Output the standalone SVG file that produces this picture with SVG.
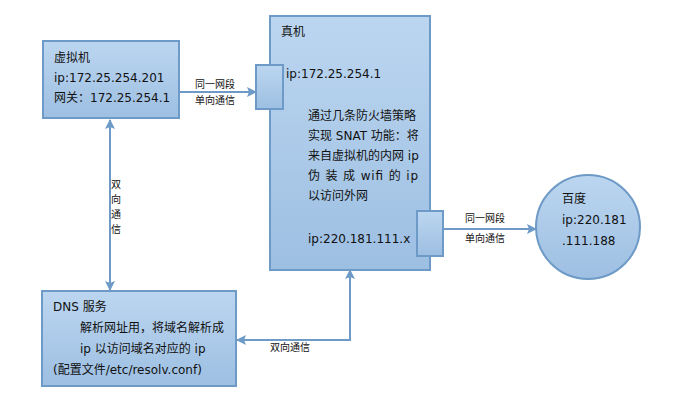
<svg xmlns="http://www.w3.org/2000/svg" width="675" height="412" viewBox="0 0 675 412">
<defs>
<linearGradient id="g" x1="0" y1="0" x2="0" y2="1">
<stop offset="0" stop-color="#bcd6f0"/>
<stop offset="1" stop-color="#9dbfe2"/>
</linearGradient>
<marker id="ah" viewBox="0 0 10 10" refX="9" refY="5" markerWidth="10" markerHeight="10" markerUnits="userSpaceOnUse" orient="auto-start-reverse">
<path d="M0,0 L10,5 L0,10 L2,5 Z" fill="#6d9ac6"/>
</marker>
<style>
.box{fill:url(#g);stroke:#6d9ac6;stroke-width:2}
.t{font-family:"DejaVu Sans","Noto Sans CJK SC",sans-serif;font-size:12px;fill:#111}
.s{font-family:"DejaVu Sans","Noto Sans CJK SC",sans-serif;font-size:10px;fill:#111}
.c{fill:none;stroke:#6d9ac6;stroke-width:2}
</style>
</defs>
<rect width="675" height="412" fill="#fff"/>
<g id="connectors">
<line class="c" x1="180" y1="92" x2="256" y2="92" marker-end="url(#ah)"/>
<line class="c" x1="110" y1="120" x2="110" y2="290" marker-start="url(#ah)" marker-end="url(#ah)"/>
<line class="c" x1="443" y1="229" x2="536" y2="229" marker-end="url(#ah)"/>
<polyline class="c" points="350,270 350,340 237,340" marker-start="url(#ah)" marker-end="url(#ah)"/>
<text class="s" x="195" y="88">同一网段</text>
<text class="s" x="195" y="104">单向通信</text>
<text class="s" x="465" y="222">同一网段</text>
<text class="s" x="465" y="242">单向通信</text>
<text class="s" x="270" y="351">双向通信</text>
<text class="s" x="111" y="188">双</text>
<text class="s" x="111" y="203">向</text>
<text class="s" x="111" y="218">通</text>
<text class="s" x="111" y="233">信</text>
</g>
<g id="vm">
<rect class="box" x="43" y="41" width="136" height="77"/>
<text class="t" x="54" y="62">虚拟机</text>
<text class="t" x="54" y="82">ip:172.25.254.201</text>
<text class="t" x="54" y="102">网关：172.25.254.1</text>
</g>
<g id="host">
<rect class="box" x="270" y="16" width="160" height="254"/>
<text class="t" x="281" y="36">真机</text>
<text class="t" x="286" y="78">ip:172.25.254.1</text>
<text class="t" x="308" y="120">通过几条防火墙策略</text>
<text class="t" x="308" y="140">实现 SNAT 功能：将</text>
<text class="t" x="308" y="160">来自虚拟机的内网 ip</text>
<text class="t" x="308" y="180" textLength="110">伪 装 成 wifi 的 ip</text>
<text class="t" x="308" y="200">以访问外网</text>
<text class="t" x="308" y="243">ip:220.181.111.x</text>
</g>
<g id="port-left">
<rect class="box" x="256" y="65" width="27" height="44"/>
</g>
<g id="port-right">
<rect class="box" x="417" y="211" width="26" height="45"/>
</g>
<g id="baidu">
<circle class="box" cx="588" cy="227" r="52"/>
<text class="t" x="562" y="203">百度</text>
<text class="t" x="562" y="224">ip:220.181</text>
<text class="t" x="562" y="245">.111.188</text>
</g>
<g id="dns">
<rect class="box" x="42" y="291" width="194" height="95"/>
<text class="t" x="53" y="311">DNS 服务</text>
<text class="t" x="80" y="332">解析网址用，将域名解析成</text>
<text class="t" x="80" y="353">ip 以访问域名对应的 ip</text>
<text class="t" x="53" y="374">(配置文件/etc/resolv.conf)</text>
</g>
</svg>
